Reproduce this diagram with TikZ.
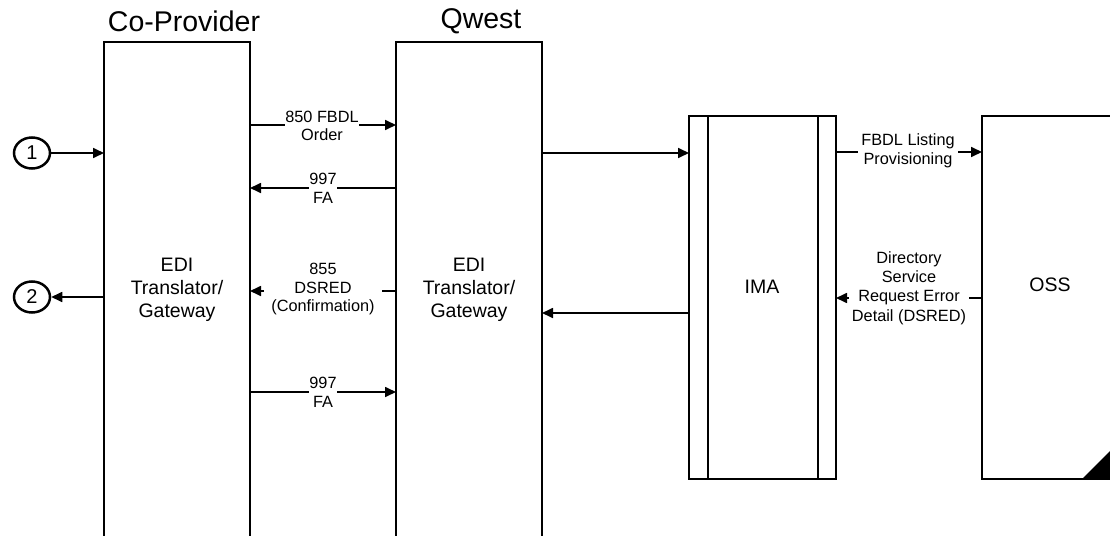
\documentclass[tikz,border=0pt]{standalone}
\usepackage{fontspec}
\setmainfont{Liberation Sans}
\usetikzlibrary{arrows.meta,shapes.geometric}
\begin{document}
\begin{tikzpicture}[x=1pt,y=-1pt,
  box/.style={draw,line width=2.3pt,rectangle,inner sep=0pt,outer sep=0pt},
  arr/.style={line width=1.7pt,-{Triangle[length=11pt,width=10pt]}},
  lbl/.style={fill=white,inner sep=0.5pt,align=center,font=\fontsize{16.3}{18.5}\selectfont},
  big/.style={align=center,font=\fontsize{19.5}{23}\selectfont},
  title/.style={font=\fontsize{28.5}{30}\selectfont},
  bub/.style={draw,line width=2.5pt,ellipse,minimum width=36pt,minimum height=31pt,inner sep=0pt,font=\fontsize{20}{20}\selectfont}
]
\useasboundingbox (0,0) rectangle (1110,535);
% boxes
\node[box,minimum width=146pt,minimum height=518pt] (cop) at (177,301) {};
\node[box,minimum width=146pt,minimum height=518pt] (qw) at (469,301) {};
\node[box,minimum width=147pt,minimum height=363pt] (ima) at (762.5,297.5) {};
\node[box,minimum width=132pt,minimum height=363pt] (oss) at (1048,297.5) {};
\draw[line width=2.3pt] ([xshift=19pt]ima.north west) -- ([xshift=19pt]ima.south west);
\draw[line width=2.3pt] ([xshift=-18pt]ima.north east) -- ([xshift=-18pt]ima.south east);
\fill ([xshift=-32pt]oss.south east) -- (oss.south east) -- ([yshift=32pt]oss.south east) -- cycle;
% titles
\node[title] (tcop) at (184,21) {Co-Provider};
\node[title] (tqw) at (481,21) {Qwest};
% box labels
\node[big] (edi1) at (177,290) {EDI\\Translator/\\Gateway};
\node[big] (edi2) at (469,290) {EDI\\Translator/\\Gateway};
\node[big] (imal) at (762,287) {IMA};
\node[big] (ossl) at (1050,285) {OSS};
% bubbles
\node[bub] (c1) at (32,153) {1};
\node[bub] (c2) at (32,297) {2};
\draw[arr] (c1.east) -- (cop.west |- c1);
\draw[arr] (cop.west |- c2) -- (c2.east);
% Co-Provider <-> Qwest
\draw[arr] (cop.east |- 0,125) -- (qw.west |- 0,125);
\node[lbl] (m1) at (322,126) {850 FBDL\\Order};
\draw[arr] (qw.west |- 0,188) -- (cop.east |- 0,188);
\node[lbl] (m2) at (323,188.5) {997\\FA};
\draw[arr] (qw.west |- 0,291) -- (cop.east |- 0,291);
\node[lbl,inner xsep=7pt] (m3) at (323,289) {855\\DSRED\\(Confirmation)};
\draw[arr] (cop.east |- 0,392) -- (qw.west |- 0,392);
\node[lbl] (m4) at (323,392.5) {997\\FA};
% Qwest <-> IMA
\draw[arr] (qw.east |- 0,153) -- (ima.west |- 0,153);
\draw[arr] (ima.west |- 0,313) -- (qw.east |- 0,313);
% IMA <-> OSS
\draw[arr] (ima.east |- 0,152) -- (oss.west |- 0,152);
\node[lbl,inner xsep=3pt] (m5) at (908,151) {FBDL Listing\\Provisioning};
\draw[arr] (oss.west |- 0,298) -- (ima.east |- 0,298);
\node[lbl,inner xsep=3pt,font=\fontsize{16.3}{19.3}\selectfont] (m6) at (909,288) {Directory\\Service\\Request Error\\Detail (DSRED)};
\end{tikzpicture}
\end{document}
